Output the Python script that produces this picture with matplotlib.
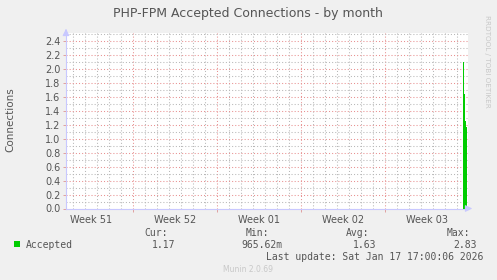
import numpy as np
import matplotlib
matplotlib.use("Agg")
import matplotlib.pyplot as plt
from matplotlib.ticker import MultipleLocator, FixedLocator, NullFormatter

# ---- data ----
week_labels = ["Week 51", "Week 52", "Week 01", "Week 02", "Week 03"]
# 2-hour slots at the very end of the month view, in days from the left edge
slot_start = [33.08, 33.17, 33.25, 33.33]
accepted = [2.10, 1.65, 1.25, 1.17]

legend_heads = ["Cur:", "Min:", "Avg:", "Max:"]
legend_vals = ["1.17", "965.62m", "1.63", "2.83"]
last_update = "Last update: Sat Jan 17 17:00:06 2026"

# ---- scale setup ----
first_week = 5.58      # day offset of the first week boundary
x_max = 33.5
y_max = 2.52
slot_w = 1 / 12

W, H = 497, 280
def px(x, y):
    return x / W, 1 - y / H

TXT = "#555555"
AXC = "#c8c8ff"

fig = plt.figure(figsize=(W / 100, H / 100), dpi=100, facecolor="#f0f0f0")
ax = fig.add_axes([66 / W, 1 - 208.5 / H, 402 / W, 175.5 / H])
ax.set_facecolor("white")
ax.set_xlim(0, x_max)
ax.set_ylim(0, y_max)

# bars via the axes scales
ax.bar(slot_start, accepted, width=slot_w * 1.02, align="edge", color="#00cc00",
       lw=0, antialiased=False, zorder=3)

# grid: day / week lines, 0.1 / 0.2 lines
week_edges = np.arange(first_week, x_max, 7)
day_lines = np.arange(first_week % 1, x_max, 1)
ax.xaxis.set_major_locator(FixedLocator(week_edges))
ax.xaxis.set_minor_locator(FixedLocator(day_lines))
ax.yaxis.set_major_locator(MultipleLocator(0.2))
ax.yaxis.set_minor_locator(MultipleLocator(0.1))
ax.xaxis.set_major_formatter(NullFormatter())
ax.yaxis.set_major_formatter(matplotlib.ticker.FormatStrFormatter("%.1f"))
ax.set_axisbelow(True)
ax.grid(which="minor", color="#b8b8b8", linestyle=(0, (1, 2)), lw=0.75)
ax.grid(which="major", color="#e89090", linestyle=(0, (1, 2)), lw=0.75)
ax.tick_params(which="major", length=2, width=0.7, color="#e0a0a0",
               labelsize=7, labelcolor=TXT, pad=2)
ax.tick_params(which="minor", length=0)
for s in ["top", "right"]:
    ax.spines[s].set_visible(False)
for s in ["left", "bottom"]:
    ax.spines[s].set_color(AXC)
    ax.spines[s].set_linewidth(0.8)

# week labels centred in each week
mids = week_edges[0] - 3.5 + 7 * np.arange(len(week_labels))
for m, lab in zip(mids, week_labels):
    ax.text(m, -0.035, lab, transform=ax.get_xaxis_transform(), ha="center",
            va="top", fontsize=7, color=TXT)

# axis arrows
arrow = dict(arrowstyle="-|>,head_length=0.4,head_width=0.2", color=AXC, lw=0.8)
ax.annotate("", xy=px(475, 208.5), xytext=px(466, 208.5),
            xycoords="figure fraction", textcoords="figure fraction", arrowprops=arrow)
ax.annotate("", xy=px(66, 26), xytext=px(66, 34),
            xycoords="figure fraction", textcoords="figure fraction", arrowprops=arrow)

# texts
fig.text(*px(248, 13), "PHP-FPM Accepted Connections - by month", ha="center",
         va="center", fontsize=9, color=TXT)
fig.text(*px(10, 120), "Connections", rotation=90, ha="center", va="center",
         fontsize=7.5, color=TXT)
fig.text(*px(487, 15), "RRDTOOL / TOBI OETIKER", rotation=270, ha="center",
         va="top", fontsize=5.2, color="#c8c8c8")

mono = "DejaVu Sans Mono"
head_x = [168, 269, 369, 470]
val_x = [175, 282, 376, 477]
for hx, h in zip(head_x, legend_heads):
    fig.text(*px(hx, 233), h, ha="right", va="center", fontsize=7,
             family=mono, color=TXT)
for vx, v in zip(val_x, legend_vals):
    fig.text(*px(vx, 244.5), v, ha="right", va="center", fontsize=7,
             family=mono, color=TXT)
fig.add_artist(plt.Rectangle(px(14, 247), 6 / W, 6 / H, transform=fig.transFigure,
                             facecolor="#00cc00", edgecolor="none"))
fig.text(*px(26, 244.5), "Accepted", ha="left", va="center", fontsize=7,
         family=mono, color=TXT)
fig.text(*px(483, 256.5), last_update, ha="right", va="center", fontsize=7,
         family=mono, color=TXT)
fig.text(*px(248, 269), "Munin 2.0.69", ha="center", va="center",
         fontsize=5.5, color="#c8c8c8")

fig.savefig("out.png", dpi=100, facecolor=fig.get_facecolor())
